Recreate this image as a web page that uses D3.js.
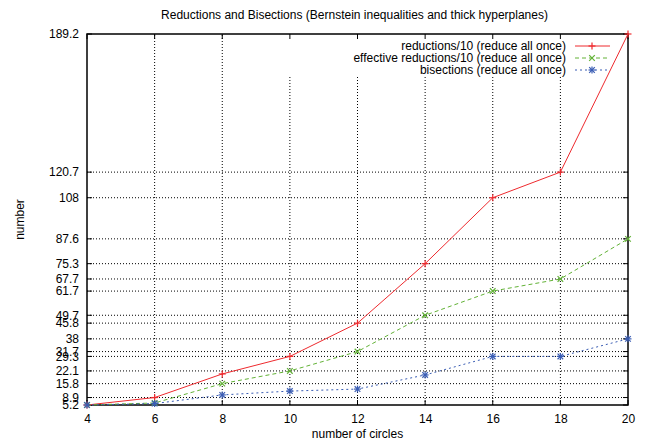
<!DOCTYPE html>
<html>
<head>
<meta charset="utf-8">
<script src="https://cdn.jsdelivr.net/npm/d3@7"></script>
<style>
  body { margin: 0; background: #fff; }
  svg { font-family: "Liberation Sans", Arial, Helvetica, sans-serif; }
  .grid line { stroke: #000; stroke-width: 1; stroke-dasharray: 1,2; }
</style>
</head>
<body>
<div id="chart"></div>
<script>
// data
const circles = [4, 6, 8, 10, 12, 14, 16, 18, 20];
const reductions = [5.2, 8.9, 20.6, 29.3, 45.8, 75.3, 108, 120.7, 189.2];
const effectiveReductions = [5.2, 6.2, 15.8, 22.1, 31.7, 49.7, 61.7, 67.7, 87.6];
const bisections = [5.2, 5.9, 10.2, 12.1, 13.1, 20.1, 29.3, 29.3, 38];
const yTicks = [5.2, 8.9, 15.8, 22.1, 29.3, 31.7, 38, 45.8, 49.7, 61.7, 67.7, 75.3, 87.6, 108, 120.7, 189.2];

const width = 651;
const height = 443;
const margin = { top: 34, right: 23, bottom: 38, left: 87 };

const svg = d3.select('#chart').append('svg')
    .attr('width', width).attr('height', height);

const x = d3.scaleLinear().domain([4, 20]).range([margin.left, width - margin.right]);
const y = d3.scaleLinear().domain([5.2, 189.2]).range([height - margin.bottom, margin.top]);

// grid
const grid = svg.append('g').attr('class', 'grid');
grid.selectAll('line.v').data(circles.slice(1, -1)).enter().append('line')
    .attr('x1', d => x(d)).attr('x2', d => x(d))
    .attr('y1', y.range()[0]).attr('y2', y.range()[1]);
grid.selectAll('line.h').data(yTicks.slice(1, -1)).enter().append('line')
    .attr('x1', x.range()[0]).attr('x2', x.range()[1])
    .attr('y1', d => y(d)).attr('y2', d => y(d));

// key area hides the grid like gnuplot does
svg.append('rect')
    .attr('x', 283).attr('y', margin.top + 1)
    .attr('width', x.range()[1] - 284).attr('height', 41)
    .attr('fill', '#fff');

// axes
const tickLen = 5;
const xAxis = d3.axisBottom(x).tickValues(circles).tickSize(0).tickPadding(9).tickFormat(d3.format('d'));
const yAxis = d3.axisLeft(y).tickValues(yTicks).tickSize(0).tickPadding(8).tickFormat(d => d);

svg.append('g').attr('transform', `translate(0,${y.range()[0]})`).call(xAxis)
    .call(g => g.select('.domain').remove())
    .selectAll('text').attr('font-size', 12).attr('fill', '#000').style('font-family', 'inherit');
svg.append('g').attr('transform', `translate(${x.range()[0]},0)`).call(yAxis)
    .call(g => g.select('.domain').remove())
    .selectAll('text').attr('font-size', 12).attr('fill', '#000').style('font-family', 'inherit');

// inward tick marks on all four borders
const ticks = svg.append('g').attr('stroke', '#000').attr('stroke-width', 1);
circles.forEach(c => {
    ticks.append('line').attr('x1', x(c)).attr('x2', x(c)).attr('y1', y.range()[0]).attr('y2', y.range()[0] - tickLen);
    ticks.append('line').attr('x1', x(c)).attr('x2', x(c)).attr('y1', y.range()[1]).attr('y2', y.range()[1] + tickLen);
});
yTicks.forEach(v => {
    ticks.append('line').attr('x1', x.range()[0]).attr('x2', x.range()[0] + tickLen).attr('y1', y(v)).attr('y2', y(v));
    ticks.append('line').attr('x1', x.range()[1]).attr('x2', x.range()[1] - tickLen).attr('y1', y(v)).attr('y2', y(v));
});

// border
svg.append('rect')
    .attr('x', x.range()[0]).attr('y', y.range()[1])
    .attr('width', x.range()[1] - x.range()[0]).attr('height', y.range()[0] - y.range()[1])
    .attr('fill', 'none').attr('stroke', '#000').attr('stroke-width', 1.5);

// series
const series = [
    { name: 'reductions/10 (reduce all once)', values: reductions, color: '#ee2a2e', dash: null, mark: 'plus' },
    { name: 'effective reductions/10 (reduce all once)', values: effectiveReductions, color: '#62b236', dash: '4,3', mark: 'cross' },
    { name: 'bisections (reduce all once)', values: bisections, color: '#3a5db4', dash: '2,3', mark: 'star' }
];

const line = d3.line().x(d => x(d[0])).y(d => y(d[1]));

function marker(g, cx, cy, type, color) {
    const r = 3.5;
    const p = g.append('g').attr('stroke', color).attr('stroke-width', 1.2);
    if (type === 'plus' || type === 'star') {
        p.append('line').attr('x1', cx - r).attr('x2', cx + r).attr('y1', cy).attr('y2', cy);
        p.append('line').attr('x1', cx).attr('x2', cx).attr('y1', cy - r).attr('y2', cy + r);
    }
    if (type === 'cross' || type === 'star') {
        const q = r * 0.8;
        p.append('line').attr('x1', cx - q).attr('x2', cx + q).attr('y1', cy - q).attr('y2', cy + q);
        p.append('line').attr('x1', cx - q).attr('x2', cx + q).attr('y1', cy + q).attr('y2', cy - q);
    }
}

const plot = svg.append('g');
series.forEach(s => {
    const pts = circles.map((c, i) => [c, s.values[i]]);
    plot.append('path').datum(pts)
        .attr('d', line)
        .attr('fill', 'none')
        .attr('stroke', s.color)
        .attr('stroke-width', 1)
        .attr('stroke-dasharray', s.dash);
    pts.forEach(p => marker(plot, x(p[0]), y(p[1]), s.mark, s.color));
});

// legend
const legend = svg.append('g');
series.forEach((s, i) => {
    const ly = 46 + i * 12;
    legend.append('text')
        .attr('x', 566).attr('y', ly).attr('dy', '0.35em')
        .attr('text-anchor', 'end').attr('font-size', 12)
        .text(s.name);
    legend.append('line')
        .attr('x1', 575).attr('x2', 610).attr('y1', ly).attr('y2', ly)
        .attr('stroke', s.color).attr('stroke-width', 1)
        .attr('stroke-dasharray', s.dash);
    marker(legend, 592, ly, s.mark, s.color);
});

// titles
svg.append('text')
    .attr('x', (x.range()[0] + x.range()[1]) / 2 - 3).attr('y', 19)
    .attr('text-anchor', 'middle').attr('font-size', 12)
    .text('Reductions and Bisections (Bernstein inequalities and thick hyperplanes)');

svg.append('text')
    .attr('x', (x.range()[0] + x.range()[1]) / 2).attr('y', 438)
    .attr('text-anchor', 'middle').attr('font-size', 12)
    .text('number of circles');

svg.append('text')
    .attr('transform', `translate(24,${(y.range()[0] + y.range()[1]) / 2}) rotate(-90)`)
    .attr('text-anchor', 'middle').attr('font-size', 12)
    .text('number');
</script>
</body>
</html>
